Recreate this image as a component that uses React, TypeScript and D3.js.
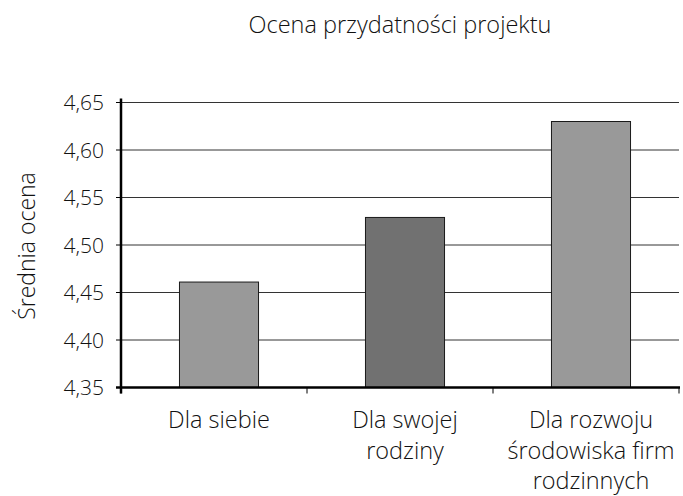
import React, { useEffect, useRef } from 'react';
import * as d3 from 'd3';

const CATEGORIES = ['Dla siebie', 'Dla swojej rodziny', 'Dla rozwoju środowiska firm rodzinnych'];
const CATEGORY_LINES = [['Dla siebie'], ['Dla swojej', 'rodziny'], ['Dla rozwoju', 'środowiska firm', 'rodzinnych']];
const VALUES = [4.461, 4.529, 4.63];
const BAR_COLORS = ['#999999', '#717171', '#999999'];
const Y_TICKS = [4.35, 4.4, 4.45, 4.5, 4.55, 4.6, 4.65];

const WIDTH = 683;
const HEIGHT = 496;
const FONT = '"Open Sans", "Noto Sans", sans-serif';

const App = () => {
  const svgRef = useRef<SVGSVGElement>(null);

  useEffect(() => {
    const svg = d3.select(svgRef.current);
    svg.selectAll('*').remove();

    const left = 121;
    const right = 679;
    const top = 102.5;
    const bottom = 387.5;

    const x = d3.scaleBand<string>().domain(CATEGORIES).range([left, right]).paddingInner(0.575).paddingOuter(0.2875);
    const y = d3.scaleLinear().domain([4.35, 4.65]).range([bottom, top]);
    // bars in the original sit a little right of the category centres
    const shift = 5;

    // gridlines
    svg.append('g')
      .selectAll('line')
      .data(Y_TICKS.slice(1))
      .enter()
      .append('line')
      .attr('x1', left)
      .attr('x2', right)
      .attr('y1', (d) => y(d))
      .attr('y2', (d) => y(d))
      .attr('stroke', '#333')
      .attr('stroke-width', 1);

    // y tick marks + labels
    const yt = svg.append('g');
    yt.selectAll('line')
      .data(Y_TICKS)
      .enter()
      .append('line')
      .attr('x1', left - 5)
      .attr('x2', left)
      .attr('y1', (d) => y(d))
      .attr('y2', (d) => y(d))
      .attr('stroke', '#000');
    yt.selectAll('text')
      .data(Y_TICKS)
      .enter()
      .append('text')
      .attr('x', 104)
      .attr('y', (d) => y(d))
      .attr('dy', '0.36em')
      .attr('text-anchor', 'end')
      .attr('font-family', FONT)
      .attr('font-weight', 300)
      .attr('font-size', 21)
      .attr('fill', '#111')
      .text((d) => d3.format('.2f')(d).replace('.', ','));

    // bars
    svg.append('g')
      .selectAll('rect')
      .data(VALUES)
      .enter()
      .append('rect')
      .attr('x', (d, i) => (x(CATEGORIES[i]) as number) + shift)
      .attr('width', x.bandwidth())
      .attr('y', (d) => y(d))
      .attr('height', (d) => bottom - y(d))
      .attr('fill', (d, i) => BAR_COLORS[i])
      .attr('stroke', '#1a1a1a')
      .attr('stroke-width', 1);

    // axes lines
    svg.append('line')
      .attr('x1', left).attr('x2', left)
      .attr('y1', top - 4).attr('y2', bottom + 6)
      .attr('stroke', '#000').attr('stroke-width', 2.5);
    svg.append('line')
      .attr('x1', left - 5).attr('x2', right + 1)
      .attr('y1', bottom).attr('y2', bottom)
      .attr('stroke', '#000').attr('stroke-width', 2.5);

    // category boundary ticks
    const step = x.step();
    svg.append('g')
      .selectAll('line')
      .data(d3.range(CATEGORIES.length + 1))
      .enter()
      .append('line')
      .attr('x1', (i) => left + i * step)
      .attr('x2', (i) => left + i * step)
      .attr('y1', bottom)
      .attr('y2', bottom + 6)
      .attr('stroke', '#000');

    // category labels
    const cl = svg.append('g');
    CATEGORY_LINES.forEach((lines, i) => {
      const cx = (x(CATEGORIES[i]) as number) + shift + x.bandwidth() / 2;
      const t = cl.append('text')
        .attr('x', cx)
        .attr('y', 428)
        .attr('text-anchor', 'middle')
        .attr('font-family', FONT)
        .attr('font-weight', 300)
        .attr('font-size', 23.5)
        .attr('fill', '#111');
      lines.forEach((ln, j) => {
        t.append('tspan').attr('x', cx).attr('dy', j === 0 ? 0 : 30.5).text(ln);
      });
    });

    // title
    svg.append('text')
      .attr('x', 400)
      .attr('y', 33)
      .attr('text-anchor', 'middle')
      .attr('font-family', FONT)
      .attr('font-weight', 300)
      .attr('font-size', 23.5)
      .attr('fill', '#111')
      .text('Ocena przydatności projektu');

    // y axis title
    svg.append('text')
      .attr('transform', 'translate(35,246) rotate(-90)')
      .attr('text-anchor', 'middle')
      .attr('font-family', FONT)
      .attr('font-weight', 300)
      .attr('font-size', 23)
      .attr('fill', '#111')
      .text('Średnia ocena');
  }, []);

  return (
    <svg
      ref={svgRef}
      width={WIDTH}
      height={HEIGHT}
      style={{ position: 'absolute', left: 0, top: 0, background: '#fff' }}
    ></svg>
  );
};

export default App;
